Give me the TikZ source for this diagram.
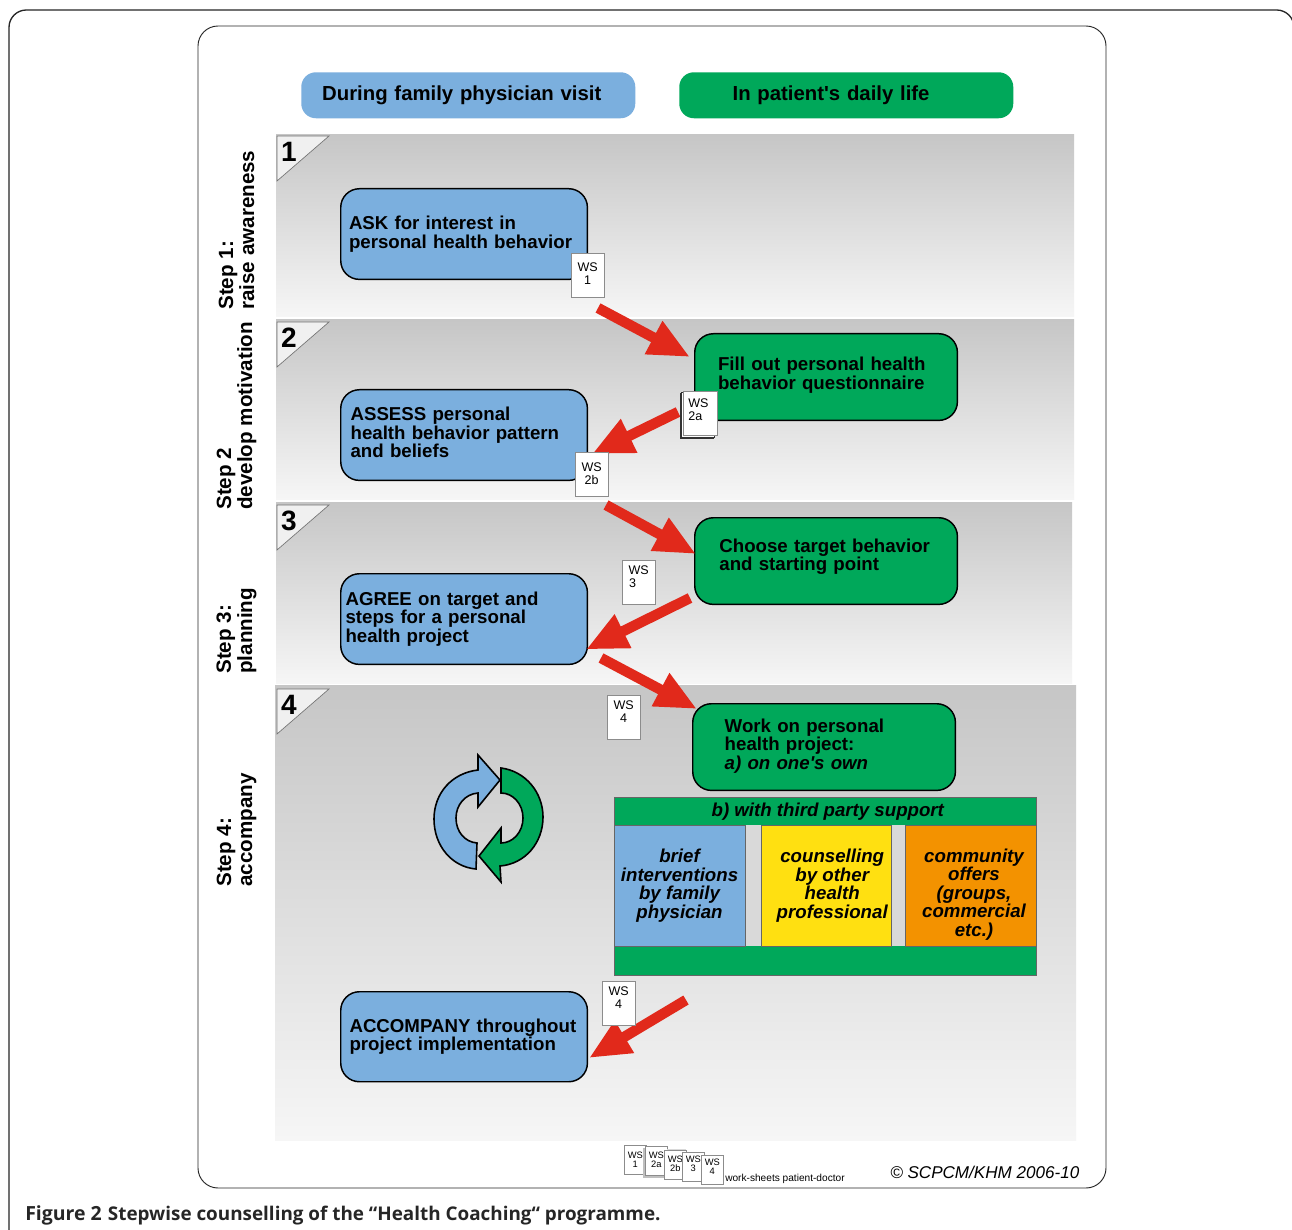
\documentclass[tikz,border=0pt]{standalone}
\usepackage{fontspec}
\setmainfont{Liberation Sans}
\newfontfamily\lsans{Liberation Sans}
\newfontfamily\capfont{Open Sans}
\usetikzlibrary{arrows.meta,positioning,calc}
\definecolor{cblue}{HTML}{7BAFDE}
\definecolor{cgreen}{HTML}{00A85A}
\definecolor{cred}{HTML}{E1291B}
\definecolor{cyellow}{HTML}{FFE011}
\definecolor{corange}{HTML}{F39200}
\definecolor{bandtop}{HTML}{C6C6C6}
\definecolor{bandbot}{HTML}{F6F6F6}
\newcommand\ysh{\hspace*{9pt}}
\newcommand\osh{\hspace*{5.2pt}}
\newcommand\dn[1]{\rule[-#1pt]{0pt}{1pt}}
\newcommand\sq{{\lsans\char39}}
\tikzset{
  pbox/.style n args={4}{draw=black,line width=1.1pt,rounded corners=14pt,anchor=north west,
     minimum width=#1,minimum height=#2,text width=#3,inner xsep=#4,inner ysep=0pt,align=left,
     font=\fontsize{14}{14.1}\selectfont\bfseries},
  hdr/.style={rounded corners=11pt,anchor=north west,minimum width=250.5pt,minimum height=34.5pt,text width=250.5pt,
     align=left,font=\fontsize{15.25}{18}\selectfont\bfseries,inner sep=0pt},
  band/.style={top color=bandtop,bottom color=bandbot,draw=none},
  cornertri/.style={fill=black!6,draw=black!55,line width=0.5pt},
  num/.style={font=\fontsize{21}{21}\selectfont\bfseries,inner sep=0pt},
  steplab/.style={rotate=90,anchor=west,inner sep=0pt,align=left,font=\fontsize{15.45}{15.8}\selectfont\bfseries},
  ws/.style={draw=black!45,fill=white,line width=0.5pt,anchor=north west,minimum width=24.5pt,minimum height=33pt,
     inner sep=0pt,align=center,font=\fontsize{9.4}{10}\selectfont},
  wssm/.style={draw=black!45,fill=white,line width=0.5pt,anchor=north west,minimum width=16.5pt,minimum height=22pt,
     inner sep=0pt,align=center,font=\fontsize{7}{6.8}\selectfont},
  redarrow/.style={draw=cred,line width=7.8pt,-{Triangle[length=31pt,width=26pt]}},
  tcell/.style={anchor=north west,inner sep=0pt,align=center,
     font=\fontsize{14}{13.9}\selectfont\bfseries\itshape},
  cyc/.style={draw=black,line width=1.2pt,line join=miter},
}
\begin{document}
\begin{tikzpicture}[x=0.75pt,y=-0.75pt]
\useasboundingbox (0,0) rectangle (1292,1230);
\fill[white] (0,0) rectangle (1292,1230);
% outer frames
\draw[black!85,line width=1pt,rounded corners=13pt] (9,1245) -- (9,10) -- (1294,10) -- (1294,40);
\draw[black!85,line width=0.7pt,rounded corners=15pt] (198,26) rectangle (1106,1188);
% bands
\shade[band] (276,135) rectangle (1074,317);
\shade[band] (276,320) rectangle (1074,499);
\shade[band] (276,502) rectangle (1072,683);
\shade[band] (275,685) rectangle (1076,1140);
\foreach \y/\n in {136/1,322/2,505/3,689/4}{
  \draw[cornertri] (277,\y) -- (329,\y) -- (277,\y+45) -- cycle;
  \node[num] (n\n) at (289,\y+16) {\n};
}
% headers
\node[hdr,fill=cblue] (h1) at (301,72) {\hspace*{15.7pt}During family physician visit};
\node[hdr,fill=cgreen] (h2) at (679,72) {\hspace*{40pt}In patient\sq s daily life};
% step labels
\node[steplab] (s1) at (236.5,310) {Step 1:\\raise awareness};
\node[steplab] (s2) at (236.5,510) {Step 2\\develop motivation};
\node[steplab] (s3) at (236.5,674) {Step 3:\\planning};
\node[steplab] (s4) at (236.5,887) {Step 4:\\accompany};
% main boxes
\node[pbox={185pt}{68pt}{172.6pt}{6.2pt},fill=cblue] (ask) at (340,188) {ASK for interest in\\personal health behavior\dn{3}};
\node[pbox={185pt}{68pt}{170.2pt}{7.4pt},fill=cblue] (assess) at (340,389) {ASSESS personal\\health behavior pattern\\and beliefs\dn{4}};
\node[pbox={185pt}{68pt}{177.8pt}{3.6pt},fill=cblue] (agree) at (340,573) {AGREE on target and\\steps for a personal\\health project};
\node[pbox={185pt}{67.5pt}{171.8pt}{6.6pt},fill=cblue] (accomp) at (340,991) {ACCOMPANY throughout\\project implementation};
\node[pbox={197pt}{65pt}{162pt}{17.5pt},fill=cgreen] (fill) at (694,333) {Fill out personal health\\behavior questionnaire\dn{6}};
\node[pbox={197pt}{65pt}{160pt}{18.5pt},fill=cgreen] (choose) at (694,517) {Choose target behavior\\and starting point\dn{9.5}};
\node[pbox={197pt}{65pt}{149pt}{24pt},fill=cgreen] (work) at (692,703) {Work on personal\\health project:\\\textit{a) on one\sq s own}\dn{4.5}};
% table
\fill[cgreen,draw=black!60,line width=0.4pt] (614,797) rectangle (1036,975);
\node[tcell,fill=cgreen,draw=black!60,line width=0.4pt,minimum width=316.5pt,minimum height=21pt] (tb) at (614,797) {\hspace*{3.8pt}b) with third party support};
\fill[black!15] (745,825) rectangle (761,946);
\fill[black!15] (891,825) rectangle (905,946);
\node[tcell,fill=cblue,draw=black!60,line width=0.3pt,minimum width=98pt,minimum height=90.75pt] (t1) at (614,825) {brief\\interventions\\by family\\physician};
\node[tcell,fill=cyellow,draw=black!60,line width=0.3pt,minimum width=97.5pt,minimum height=90.75pt] (t2) at (761,825) {\ysh counselling\\\ysh by other\\\ysh health\\\ysh professional};
\node[tcell,fill=corange,draw=black!60,line width=0.3pt,minimum width=98pt,minimum height=90.75pt] (t3) at (905,825) {\osh\rule{0pt}{23.5pt}community\\\osh offers\\\osh(groups,\\\osh commercial\\\osh etc.)};
% cycle arrows
\draw[cyc,fill=cblue] (476,869) .. controls (452,867) and (434,846) .. (434,819)
  .. controls (434,793) and (452,773) .. (478,770) -- (478,755) -- (500,780) -- (478,807) -- (478,793)
  .. controls (465,794) and (456,805) .. (456,818) .. controls (456,832) and (465,842) .. (477,843) -- cycle;
\draw[cyc,fill=cgreen] (501,768) .. controls (525,771) and (543,792) .. (543,817)
  .. controls (543,843) and (525,864) .. (500,866) -- (501,882) -- (479,856) -- (501,828) -- (501,843)
  .. controls (513,843) and (523,832) .. (523,818) .. controls (523,804) and (513,793) .. (501,793) -- cycle;
% arrows
\coordinate (a1s) at (598,308); \coordinate (a1e) at (690,357);
\coordinate (a2s) at (678,412); \coordinate (a2e) at (592,454);
\coordinate (a3s) at (606,505); \coordinate (a3e) at (696,554);
\coordinate (a4s) at (690,598); \coordinate (a4e) at (586,649.5);
\coordinate (a5s) at (601,658); \coordinate (a5e) at (697,709);
\coordinate (a6s) at (686,1000); \coordinate (a6e) at (589,1058);
\foreach \i in {1,...,6}{ \draw[redarrow] (a\i s) -- (a\i e); }
% worksheets
\node[ws] (w1) at (571,253) {WS\\1\dn{2.25}};
\fill[white,draw=black!80,line width=0.35pt] (680,393) rectangle (713,438);
\fill[white,draw=black!80,line width=0.35pt] (681.5,392) rectangle (714.5,437);
\node[ws,text width=17.9pt,align=left,inner xsep=3.8pt,minimum width=0pt] (w2a) at (683,391) {WS\\2a\dn{5.25}};
\node[ws] (w2b) at (575,452) {WS\\2b\dn{1.5}};
\node[ws] (w3) at (622,560) {WS\\3\hspace*{9pt}\dn{8.25}};
\node[ws] (w4) at (607,695) {WS\\4\dn{9}};
\node[ws] (w4b) at (602,981) {WS\\4\dn{8.25}};
% legend
\node[wssm] (l1) at (624,1145) {WS\\1\dn{0.8}};
\fill[black!25] (643,1148) rectangle (664,1178);
\node[wssm] (l2) at (645,1146) {WS\\2a\dn{2}};
\fill[black!15] (667,1149) rectangle (686,1178);
\node[wssm] (l3) at (664,1150) {WS\\2b\dn{1.5}};
\node[wssm] (l4) at (682,1152) {WS\\3\dn{4.5}};
\node[wssm] (l5) at (701,1155) {WS\\4\dn{4.5}};
\node[anchor=base west,inner sep=0pt,font=\fontsize{7.6}{8}\selectfont] (lt) at (725,1181) {work-sheets patient-doctor};
\node[anchor=base west,inner sep=0pt,font=\fontsize{12.8}{14}\selectfont\itshape] (cp) at (890,1178) {© SCPCM/KHM 2006-10};
\node[anchor=base west,inner sep=0pt,text=black!85,font=\capfont\bfseries] (cap) at (25,1220) {{\fontsize{14.6}{16}\selectfont Figure 2}\hspace{2pt} {\fontsize{14.15}{16}\selectfont Stepwise counselling of the “Health Coaching“ programme.}};
\end{tikzpicture}
\end{document}
